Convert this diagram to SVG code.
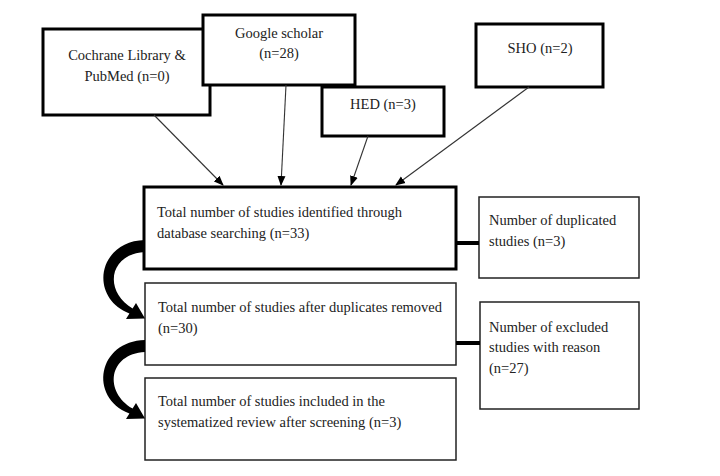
<svg xmlns="http://www.w3.org/2000/svg" width="720" height="476" viewBox="0 0 720 476">
<style>
text{font-family:"Liberation Serif","Times New Roman",serif;font-size:14.5px;fill:#222}
.c{text-anchor:middle}
.thick{fill:#fff;stroke:#000;stroke-width:3}
.thin{fill:#fff;stroke:#222;stroke-width:1.5}
.ln{stroke:#333;stroke-width:1.1;fill:none}
.bar{stroke:#000;stroke-width:4}
</style>
<defs>
<marker id="ah" markerWidth="10" markerHeight="10" refX="9" refY="5" orient="auto" markerUnits="userSpaceOnUse">
<path d="M0,1 L10,5 L0,9 Z" fill="#000"/>
</marker>
<path id="curve" d="M145,240 C98,241 88,297 129.4,313.5 L126,319 L145,318.5 L136,303 L132.6,308.5 C104,292 108,254 145,252 Z" fill="#000"/>
</defs>
<rect width="720" height="476" fill="#fff"/>

<g id="cochrane">
<rect class="thick" x="43" y="29" width="167" height="86"/>
<text class="c" x="127" y="60">Cochrane Library &amp;</text>
<text class="c" x="127" y="81">PubMed (n=0)</text>
</g>
<g id="google">
<rect class="thick" x="203" y="15" width="152" height="70"/>
<text class="c" x="279" y="38">Google scholar</text>
<text class="c" x="279" y="58">(n=28)</text>
</g>
<g id="hed">
<rect class="thick" x="322" y="87" width="122" height="49"/>
<text class="c" x="383" y="109">HED (n=3)</text>
</g>
<g id="sho">
<rect class="thick" x="476" y="24" width="127" height="63"/>
<text class="c" x="540" y="53">SHO (n=2)</text>
</g>

<g id="identified">
<rect class="thick" x="144" y="187" width="312" height="82"/>
<text x="157" y="217">Total number of studies identified through</text>
<text x="157" y="238">database searching (n=33)</text>
</g>
<g id="after-duplicates">
<rect class="thin" x="145" y="283" width="311" height="82"/>
<text x="158" y="312">Total number of studies after duplicates removed</text>
<text x="158" y="333">(n=30)</text>
</g>
<g id="included">
<rect class="thin" x="145" y="378" width="311" height="82"/>
<text x="158" y="406">Total number of studies included in the</text>
<text x="158" y="427">systematized review after screening (n=3)</text>
</g>
<g id="duplicated">
<rect class="thin" x="479" y="197" width="160" height="81"/>
<text x="489" y="225">Number of duplicated</text>
<text x="489" y="246">studies (n=3)</text>
</g>
<g id="excluded">
<rect class="thin" x="480" y="302" width="159" height="107"/>
<text x="489" y="332">Number of excluded</text>
<text x="489" y="352">studies with reason</text>
<text x="489" y="373">(n=27)</text>
</g>

<g id="connectors">
<line class="ln" x1="154" y1="115" x2="223" y2="185" marker-end="url(#ah)"/>
<line class="ln" x1="286" y1="85" x2="281" y2="185" marker-end="url(#ah)"/>
<line class="ln" x1="368" y1="136" x2="351" y2="185" marker-end="url(#ah)"/>
<line class="ln" x1="529" y1="87" x2="396" y2="185" marker-end="url(#ah)"/>
<line class="bar" x1="456" y1="243" x2="479" y2="243"/>
<line class="bar" x1="456" y1="343" x2="480" y2="343"/>
<use href="#curve"/>
<use href="#curve" transform="translate(0,100)"/>
</g>
</svg>
